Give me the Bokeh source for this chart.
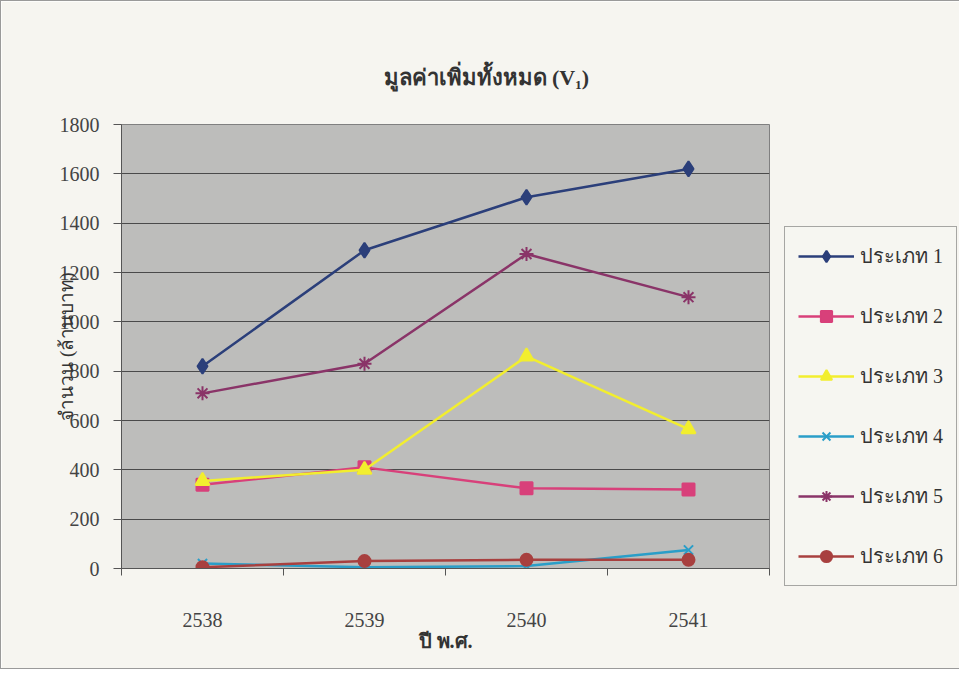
from bokeh.plotting import figure
from bokeh.models import Range1d, FixedTicker, Legend
from bokeh.embed import file_html
from bokeh.resources import INLINE

years = ["2538", "2539", "2540", "2541"]
type1 = [820, 1290, 1505, 1620]
type2 = [340, 410, 325, 320]
type3 = [355, 400, 860, 565]
type4 = [20, 5, 10, 75]
type5 = [710, 830, 1275, 1100]
type6 = [5, 30, 35, 35]
series_names = ["ประเภท 1", "ประเภท 2", "ประเภท 3", "ประเภท 4", "ประเภท 5", "ประเภท 6"]
y_ticks = [0, 200, 400, 600, 800, 1000, 1200, 1400, 1600, 1800]

xs = list(range(len(years)))
SERIF = "Liberation Serif"

p = figure(output_backend="svg", toolbar_location=None,
           frame_width=648, frame_height=444,
           min_border_left=120, min_border_right=187,
           min_border_top=123, min_border_bottom=100,
           x_range=Range1d(-0.5, len(years) - 0.5), y_range=Range1d(0, 1800),
           background_fill_color="#BDBDBB", border_fill_color="#F6F5F0")
p.styles = {"border": "1px solid #9a9a9a"}
p.outline_line_color = "#808080"

p.title.text = "มูลค่าเพิ่มทั้งหมด (V\u2081)"
p.title.align = "left"
p.title.offset = 262
p.title.text_font = SERIF
p.title.text_font_size = "22px"
p.title.text_font_style = "bold"
p.title.text_color = "#333333"
p.title.standoff = 70

# axes
p.xaxis.ticker = FixedTicker(ticks=xs, minor_ticks=[x - 0.5 for x in xs] + [xs[-1] + 0.5])
p.xaxis.major_label_overrides = {i: y for i, y in enumerate(years)}
p.xaxis.major_tick_line_color = None
p.xaxis.major_tick_out = 0
p.xaxis.major_tick_in = 0
p.xaxis.minor_tick_out = 7
p.xaxis.minor_tick_in = 0
p.xaxis.minor_tick_line_color = "#555555"
p.xaxis.major_label_standoff = 37
p.xaxis.axis_label = "ปี พ.ศ."
p.xaxis.axis_label_standoff = 0
p.xaxis.axis_label_text_font_size = "20px"
p.xaxis.axis_label_text_font_style = "bold"

p.yaxis.ticker = FixedTicker(ticks=y_ticks)
p.yaxis.major_tick_out = 8
p.yaxis.major_tick_in = 0
p.yaxis.major_tick_line_color = "#555555"
p.yaxis.minor_tick_line_color = None
p.yaxis.major_label_standoff = 14
p.yaxis.axis_label = "จำนวน (ล้านบาท)"
p.yaxis.axis_label_standoff = -20
p.yaxis.axis_label_text_font_size = "19px"
p.yaxis.axis_label_text_font_style = "normal"

for ax in (p.xaxis, p.yaxis):
    ax.axis_line_color = "#555555"
    ax.major_label_text_font = SERIF
    ax.major_label_text_font_size = "20px"
    ax.major_label_text_color = "#444444"
    ax.axis_label_text_font = SERIF
    ax.axis_label_text_color = "#333333"

p.xgrid.grid_line_color = None
p.ygrid.grid_line_color = "#4a4a4a"
p.ygrid.grid_line_width = 1
p.ygrid.ticker = FixedTicker(ticks=y_ticks)

colors = ["#2B3F7A", "#D8407A", "#F2EE2E", "#2A9EC8", "#8A3468", "#A8403F"]
markers = ["diamond", "square", "triangle", "x", "asterisk", "circle"]
sizes = [15, 12, 14, 13, 14, 12]
data = [type1, type2, type3, type4, type5, type6]

items = []
for name, vals, c, m, s in zip(series_names, data, colors, markers, sizes):
    r1 = p.line(xs, vals, line_color=c, line_width=2.5)
    r2 = p.scatter(xs, vals, marker=m, size=s, fill_color=c, line_color=c, line_width=2)
    items.append((name, [r1, r2]))

legend = Legend(items=items, location=(15, -18))
legend.background_fill_color = "#F6F5F0"
legend.border_line_color = "#555555"
legend.border_line_width = 1.5
legend.label_text_font = SERIF
legend.label_text_font_size = "20px"
legend.label_text_color = "#333333"
legend.label_height = 28
legend.glyph_width = 56
legend.glyph_height = 28
legend.spacing = 28
legend.padding = 13
legend.label_standoff = 6
legend.margin = 0
p.add_layout(legend, "right")

open("out.html", "w").write(file_html(p, INLINE))
